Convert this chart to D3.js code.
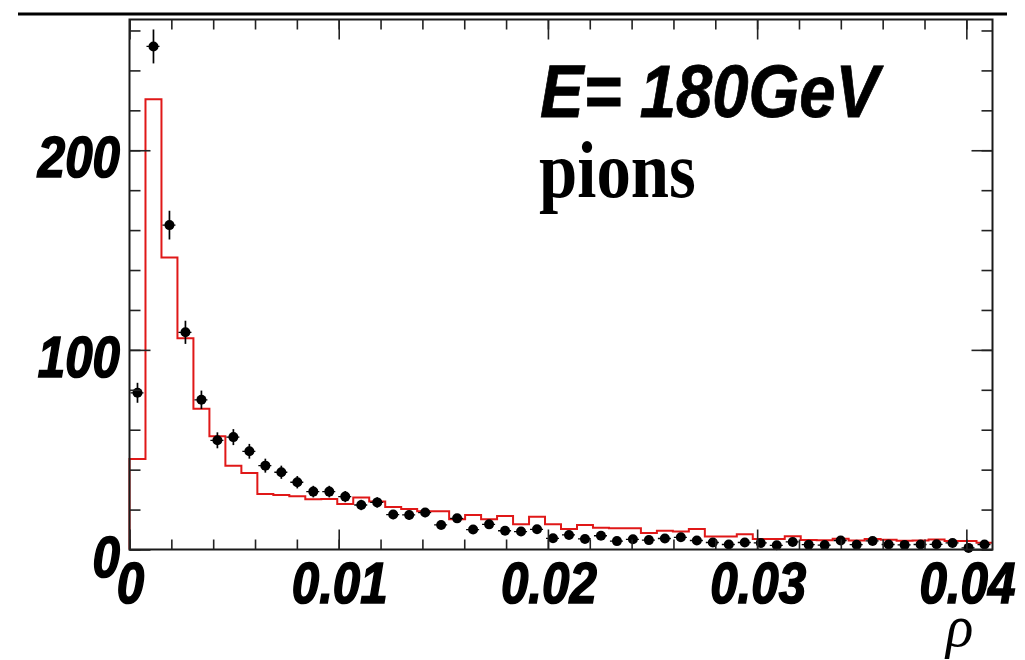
<!DOCTYPE html>
<html>
<head>
<meta charset="utf-8">
<script src="https://cdn.jsdelivr.net/npm/d3@7"></script>
<style>
  html, body { margin: 0; padding: 0; background: #fff; }
  svg { display: block; }
</style>
</head>
<body>
<svg id="chart" width="1025" height="660"></svg>
<script>
// Energy-density profile rho for 180 GeV pions: data (points) vs simulation (red histogram)
const xMax = 0.04125;
const nBins = 54;

const dataValues = [
  78.5, 252, 162.5, 108.8, 75, 54.7, 56.3, 49.2, 42, 38.7,
  33.7, 29, 29, 26.5, 22.3, 23.6, 17.5, 17.3, 18.5, 12.3,
  15.6, 10, 12.6, 9.4, 9, 10.1, 5.6, 7.3, 5.3, 6.9,
  4.2, 5.1, 4.7, 5.5, 6.1, 4.5, 3.5, 2.5, 3.5, 3.3,
  2.1, 3.8, 2.4, 2.2, 4.5, 2.4, 4.3, 2.5, 2.3, 2.5,
  2.6, 3.3, 0.8, 2.5
];

const dataErrors = [
  5, 8.5, 7.2, 5.8, 4.6, 4, 4, 3.7, 3.5, 3.3,
  3.1, 2.9, 2.9, 2.8, 2.6, 2.6, 2.3, 2.3, 2.3, 2,
  2.2, 1.8, 2, 1.7, 1.7, 1.8, 1.4, 1.5, 1.3, 1.5,
  1.2, 1.3, 1.2, 1.3, 1.4, 1.2, 1.1, 0.9, 1.1, 1,
  0.8, 1.1, 0.9, 0.8, 1.2, 0.9, 1.1, 0.9, 0.9, 0.9,
  0.9, 1, 1.6, 0.9
];

const simValues = [
  45.3, 225.5, 146.3, 105.8, 70.5, 56.7, 42, 38.3, 27.8, 27.3,
  26.7, 25.2, 25.3, 22.8, 26, 24, 21.3, 20.3, 19.1, 19.1,
  15.2, 17.3, 15.2, 16.8, 12.7, 16.4, 12.7, 10.3, 12.3, 10.9,
  10.6, 10.6, 8.3, 9.4, 9, 10.3, 6.5, 6.5, 7.7, 5.2,
  5.2, 6.6, 4.8, 4.6, 5.4, 4.5, 5.3, 4.9, 4.4, 4.5,
  5, 4.2, 4.2, 3.4
];

const xTickLabels = ["0", "0.01", "0.02", "0.03", "0.04"];
const xMajorTicks = [0, 0.01, 0.02, 0.03, 0.04];
const xMinorTicks = d3.range(0, 21).map(i => i * 0.002);
const yTickLabels = ["0", "100", "200"];
const yMajorTicks = [0, 100, 200];
const yMinorTicks = d3.range(0, 14).map(i => i * 20);

const binWidth = xMax / nBins;
const bins = d3.range(nBins).map(i => ({
  lo: i * binWidth,
  hi: (i + 1) * binWidth,
  mid: (i + 0.5) * binWidth,
  data: dataValues[i],
  err: dataErrors[i],
  sim: simValues[i]
}));

const svg = d3.select("#chart");
const frameL = 129.5, frameR = 992.5, frameT = 19.5, frameB = 549.5;

const x = d3.scaleLinear().domain([0, xMax]).range([frameL, frameR]);
const y = d3.scaleLinear().domain([0, 265.5]).range([frameB, frameT]);

// rule above the pad
svg.append("line")
  .attr("x1", 18).attr("x2", 1007).attr("y1", 14).attr("y2", 14)
  .attr("stroke", "#000").attr("stroke-width", 3);

// simulation histogram outline
const stepPts = [[x(0), y(0)]];
bins.forEach(b => { stepPts.push([x(b.lo), y(b.sim)]); stepPts.push([x(b.hi), y(b.sim)]); });
svg.append("path")
  .attr("d", d3.line()(stepPts))
  .attr("fill", "none")
  .attr("stroke", "#e01818")
  .attr("stroke-width", 2);

// data: error bars and markers
const r = 5;
const pts = svg.append("g").attr("class", "data");
bins.forEach(b => {
  const cx = x(b.mid), cy = y(b.data);
  // horizontal bin-width bar
  pts.append("line")
    .attr("x1", x(b.lo) + 1).attr("x2", x(b.hi) - 1)
    .attr("y1", cy).attr("y2", cy)
    .attr("stroke", "#000").attr("stroke-width", 1.3)
    .attr("stroke-dasharray", "3,2");
  // vertical error bar
  pts.append("line")
    .attr("x1", cx).attr("x2", cx)
    .attr("y1", y(b.data + b.err)).attr("y2", y(b.data - b.err))
    .attr("stroke", "#000").attr("stroke-width", 1.7);
  pts.append("circle")
    .attr("cx", cx).attr("cy", cy).attr("r", r)
    .attr("fill", "#000");
});

// frame
svg.append("rect")
  .attr("x", frameL).attr("y", frameT)
  .attr("width", frameR - frameL).attr("height", frameB - frameT)
  .attr("fill", "none").attr("stroke", "#1a1a1a").attr("stroke-width", 2);

// ticks (inward on all four sides)
const tickStyle = g => {
  g.select(".domain").remove();
  g.selectAll(".tick line").attr("stroke", "#222").attr("stroke-width", 1.6);
  g.selectAll(".tick text").remove();
};
svg.append("g").attr("transform", `translate(0,${frameB})`)
  .call(d3.axisBottom(x).tickValues(xMinorTicks).tickSize(-10)).call(tickStyle);
svg.append("g").attr("transform", `translate(0,${frameB})`)
  .call(d3.axisBottom(x).tickValues(xMajorTicks).tickSize(-20)).call(tickStyle);
svg.append("g").attr("transform", `translate(0,${frameT})`)
  .call(d3.axisTop(x).tickValues(xMinorTicks).tickSize(-10)).call(tickStyle);
svg.append("g").attr("transform", `translate(0,${frameT})`)
  .call(d3.axisTop(x).tickValues(xMajorTicks).tickSize(-20)).call(tickStyle);
svg.append("g").attr("transform", `translate(${frameL},0)`)
  .call(d3.axisLeft(y).tickValues(yMinorTicks).tickSize(-11)).call(tickStyle);
svg.append("g").attr("transform", `translate(${frameL},0)`)
  .call(d3.axisLeft(y).tickValues(yMajorTicks).tickSize(-21)).call(tickStyle);
svg.append("g").attr("transform", `translate(${frameR},0)`)
  .call(d3.axisRight(y).tickValues(yMinorTicks).tickSize(-11)).call(tickStyle);
svg.append("g").attr("transform", `translate(${frameR},0)`)
  .call(d3.axisRight(y).tickValues(yMajorTicks).tickSize(-21)).call(tickStyle);

// tick labels: heavy italic, narrow
const sx = 0.85;
const labelFont = "'Liberation Sans', Arial, sans-serif";
svg.append("g").selectAll("text")
  .data(xMajorTicks)
  .join("text")
  .attr("transform", (d) => `translate(${x(d) + 1},603) scale(${sx},1)`)
  .attr("text-anchor", "middle")
  .attr("font-family", labelFont)
  .attr("font-weight", "bold")
  .attr("font-style", "italic")
  .attr("font-size", 58)
  .attr("stroke", "#000").attr("stroke-width", 1.6)
  .text((d, i) => xTickLabels[i]);

svg.append("g").selectAll("text")
  .data(yMajorTicks)
  .join("text")
  .attr("transform", (d) => `translate(120,${y(d) + 27}) scale(${sx},1)`)
  .attr("text-anchor", "end")
  .attr("font-family", labelFont)
  .attr("font-weight", "bold")
  .attr("font-style", "italic")
  .attr("font-size", 58)
  .attr("stroke", "#000").attr("stroke-width", 1.6)
  .text((d, i) => yTickLabels[i]);

// axis title
svg.append("text")
  .attr("transform", "translate(946,646) scale(0.95,1)")
  .attr("font-family", "'Liberation Serif', 'DejaVu Serif', serif")
  .attr("font-style", "italic")
  .attr("font-size", 60)
  .text("ρ");

// annotations
svg.append("text")
  .attr("transform", "translate(540,117) scale(0.87,1)")
  .attr("font-family", labelFont)
  .attr("font-weight", "bold")
  .attr("font-style", "italic")
  .attr("font-size", 75)
  .attr("stroke", "#000").attr("stroke-width", 0.8)
  .text("E= 180GeV");

svg.append("text")
  .attr("transform", "translate(539,197) scale(0.86,1)")
  .attr("font-family", "'Liberation Serif', 'Times New Roman', serif")
  .attr("font-weight", "bold")
  .attr("font-size", 80)
  .text("pions");
</script>
</body>
</html>
